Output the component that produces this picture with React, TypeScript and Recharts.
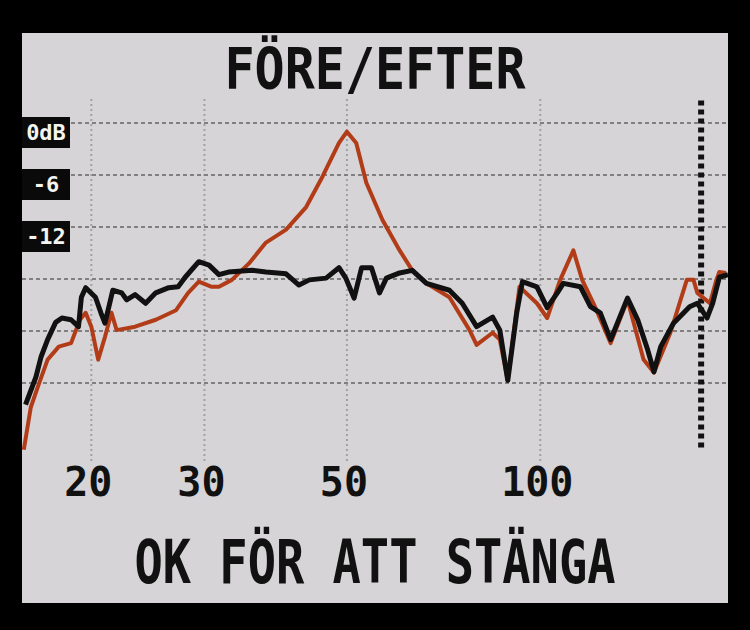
import { LineChart, Line, XAxis, YAxis, ReferenceLine } from "recharts";

// frequency (Hz) / level (dB)
const foreFreq = [15.7, 16.1, 16.5, 17.1, 17.8, 18.6, 19.2, 19.6, 20.0, 20.5, 21.0, 21.5, 21.9, 23.4, 25.2, 27.1, 28.3, 29.4, 30.8, 31.6, 33.1, 35.2, 37.4, 40.2, 43.2, 45.8, 48.6, 50.0, 51.7, 53.6, 56.8, 60.4, 63.2, 66.5, 72.2, 77.6, 79.6, 84.3, 86.5, 89.0, 92.8, 98.8, 102.5, 107.4, 112.6, 116.2, 121.0, 128.7, 136.7, 144.8, 150.3, 159.4, 169.1, 173.2, 175.6, 183.7, 188.0, 190.0, 194.6];
const foreDb = [-37.7, -32.8, -30.5, -27.3, -25.8, -25.4, -22.7, -21.9, -23.5, -27.3, -24.7, -21.9, -23.9, -23.5, -22.7, -21.6, -19.6, -18.3, -18.9, -18.9, -18.1, -16.2, -13.8, -12.3, -9.7, -6.2, -2.3, -1.0, -2.3, -6.9, -11.2, -14.7, -17.0, -18.5, -20.1, -23.9, -25.6, -24.2, -25.0, -29.7, -18.9, -20.8, -22.5, -18.1, -14.7, -18.1, -20.8, -25.4, -20.4, -27.3, -28.8, -24.2, -18.1, -18.1, -19.6, -20.8, -18.1, -17.2, -17.3];

const efterFreq = [15.8, 16.4, 16.7, 17.1, 17.6, 18.0, 18.6, 19.1, 19.3, 19.6, 20.3, 20.7, 21.0, 21.3, 21.6, 22.3, 22.7, 23.4, 24.3, 25.2, 26.4, 27.3, 28.0, 29.4, 30.5, 31.6, 32.7, 35.6, 37.4, 40.2, 42.1, 43.7, 46.4, 48.6, 49.8, 51.3, 52.7, 54.6, 56.2, 57.6, 60.4, 63.2, 66.5, 72.2, 75.6, 79.6, 84.3, 86.5, 89.0, 91.9, 93.8, 98.8, 102.5, 106.3, 108.6, 115.5, 119.7, 124.0, 128.7, 136.7, 141.8, 147.0, 150.3, 154.0, 161.2, 170.8, 175.6, 181.8, 185.5, 190.0, 196.0];
const efterDb = [-32.5, -29.3, -27.0, -25.0, -23.0, -22.5, -22.7, -23.5, -20.1, -19.0, -20.1, -21.9, -23.1, -21.2, -19.3, -19.6, -20.4, -19.8, -20.8, -19.6, -19.0, -18.9, -17.8, -16.0, -16.4, -17.5, -17.2, -17.0, -17.2, -17.4, -18.7, -18.1, -17.9, -16.7, -17.9, -20.2, -16.7, -16.7, -19.6, -17.9, -17.3, -17.0, -18.5, -19.3, -20.8, -23.5, -22.4, -23.9, -29.7, -21.9, -18.3, -18.9, -21.3, -19.6, -18.5, -18.9, -21.2, -21.9, -25.0, -20.2, -22.7, -26.2, -28.7, -25.8, -23.1, -21.2, -20.8, -22.5, -20.8, -17.8, -17.5];

const freqTicks = [20, 30, 50, 100];
const dbTicks = [0, -6, -12];
const dbGrid = [0, -6, -12, -18, -24, -30];
const dbLabels: Record<number, string> = { 0: "0dB", "-6": "-6", "-12": "-12" };
const markerFreq = 178;

const fore = foreFreq.map((f, i) => ({ f, db: foreDb[i] }));
const efter = efterFreq.map((f, i) => ({ f, db: efterDb[i] }));

const FONT = '"DejaVu Sans Mono", monospace';

function YTick({ y, payload }: any) {
  const label = dbLabels[payload.value];
  if (!label) return null;
  return (
    <g>
      <rect x={0} y={y - 6} width={48} height={31} fill="#0a0a0a" />
      <text
        x={24}
        y={y + 17}
        textAnchor="middle"
        fill="#f4f4f0"
        fontFamily={FONT}
        fontWeight="bold"
        fontSize={22}
      >
        {label}
      </text>
    </g>
  );
}

function XTick({ x, y, payload }: any) {
  return (
    <text
      x={x - 3}
      y={y + 35}
      textAnchor="middle"
      fill="#111"
      fontFamily={FONT}
      fontWeight="bold"
      fontSize={40}
    >
      {payload.value}
    </text>
  );
}

export default function App() {
  return (
    <div style={{ position: "fixed", left: 0, top: 0, width: 750, height: 630, background: "#000" }}>
      <div
        style={{
          position: "absolute",
          left: 22,
          top: 33,
          width: 706,
          height: 570,
          background: "#d6d4d6",
        }}
      />
      <div
        style={{
          position: "absolute",
          left: 22,
          top: 44,
          width: 706,
          textAlign: "center",
          fontFamily: FONT,
          fontWeight: "bold",
          fontSize: 50,
          lineHeight: "50px",
          color: "#111",
          transform: "scaleY(1.15)",
        }}
      >
        FÖRE/EFTER
      </div>
      <div style={{ position: "absolute", left: 22, top: 97 }}>
        <LineChart width={706} height={424} margin={{ top: 0, right: 0, bottom: 0, left: 0 }}>
          <XAxis
            type="number"
            dataKey="f"
            scale="log"
            domain={[15.6, 196]}
            ticks={freqTicks}
            allowDataOverflow
            axisLine={false}
            tickLine={false}
            tickSize={0}
            tickMargin={0}
            height={60}
            tick={<XTick />}
          />
          <YAxis
            type="number"
            dataKey="db"
            domain={[-39, 3]}
            ticks={dbTicks}
            allowDataOverflow
            mirror
            width={48}
            axisLine={false}
            tickLine={false}
            tick={<YTick />}
          />
          {freqTicks.map((f) => (
            <ReferenceLine
              key={`v${f}`}
              x={f}
              stroke="#a2a2a2"
              strokeDasharray="2 3"
              strokeWidth={2}
            />
          ))}
          {dbGrid.map((d) => (
            <ReferenceLine
              key={`h${d}`}
              y={d}
              stroke="#808080"
              strokeDasharray="4 3"
              strokeWidth={2}
            />
          ))}
          <ReferenceLine
            segment={[
              { x: markerFreq, y: 2.6 },
              { x: markerFreq, y: -37.5 },
            ]}
            stroke="#111"
            strokeWidth={6}
            strokeDasharray="5 4"
          />
          <Line
            data={fore}
            dataKey="db"
            stroke="#b23c18"
            strokeWidth={4}
            dot={false}
            strokeLinejoin="round"
            isAnimationActive={false}
          />
          <Line
            data={efter}
            dataKey="db"
            stroke="#111"
            strokeWidth={5}
            dot={false}
            strokeLinejoin="round"
            isAnimationActive={false}
          />
        </LineChart>
      </div>
      <div
        style={{
          position: "absolute",
          left: 22,
          top: 538,
          width: 706,
          textAlign: "center",
          fontFamily: FONT,
          fontWeight: "bold",
          fontSize: 47,
          lineHeight: "47px",
          color: "#111",
          transform: "scaleY(1.3)",
        }}
      >
        OK FÖR ATT STÄNGA
      </div>
    </div>
  );
}
